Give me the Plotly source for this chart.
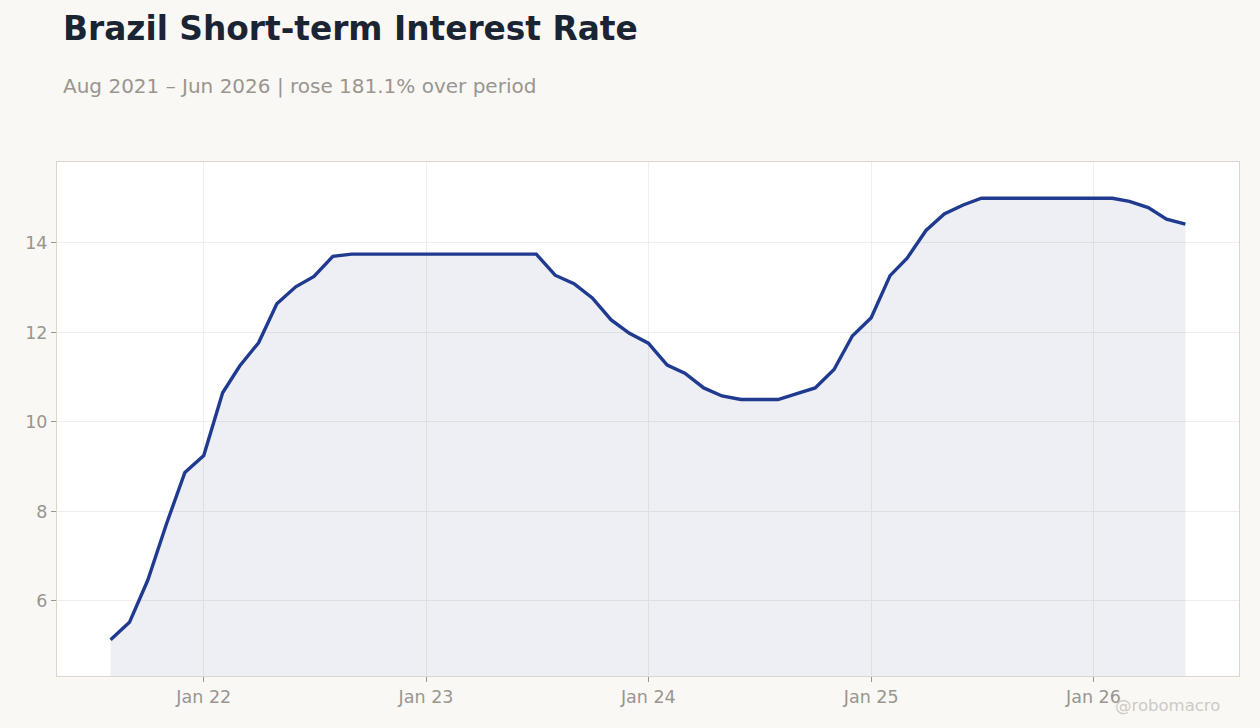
import plotly.graph_objects as go
import pandas as pd

# monthly values, Aug 2021 .. Jun 2026
months = pd.date_range("2021-08-01", "2026-06-01", freq="MS")
rate = [
    5.13, 5.52, 6.46, 7.73, 8.87,                      # Aug-Dec 21
    9.25, 10.65, 11.25, 11.77, 12.64, 13.02, 13.25,    # Jan-Jul 22
    13.70, 13.75, 13.75, 13.75, 13.75,                 # Aug-Dec 22
    13.75, 13.75, 13.75, 13.75, 13.75, 13.75, 13.75,   # Jan-Jul 23
    13.28, 13.09, 12.77, 12.28, 11.98,                 # Aug-Dec 23
    11.76, 11.27, 11.09, 10.76, 10.58, 10.50, 10.50,   # Jan-Jul 24
    10.50, 10.63, 10.76, 11.17, 11.92,                 # Aug-Dec 24
    12.33, 13.27, 13.66, 14.28, 14.65, 14.85, 15.00,   # Jan-Jul 25
    15.00, 15.00, 15.00, 15.00, 15.00,                 # Aug-Dec 25
    15.00, 15.00, 14.93, 14.79, 14.53, 14.42,          # Jan-Jun 26
]
tick_dates = ["2022-01-01", "2023-01-01", "2024-01-01", "2025-01-01", "2026-01-01"]
tick_text = ["Jan 22", "Jan 23", "Jan 24", "Jan 25", "Jan 26"]

title = "Brazil Short-term Interest Rate"
subtitle = "Aug 2021 – Jun 2026 | rose 181.1% over period"

grey = "#9a9590"
fig = go.Figure()
fig.add_trace(go.Scatter(
    x=months, y=rate,
    mode="lines",
    line=dict(color="#1f3a8f", width=3.4),
    fill="tozeroy",
    fillcolor="rgba(30,50,110,0.08)",
    hoverinfo="x+y",
))

fig.update_layout(
    width=1260, height=728,
    paper_bgcolor="#f9f8f5",
    plot_bgcolor="#ffffff",
    font=dict(family="DejaVu Sans", color=grey),
    margin=dict(l=57, r=21, t=162, b=52),
    showlegend=False,
    title=dict(text=f"<b>{title}</b>", xref="container", x=0.05, xanchor="left",
               yref="container", y=1 - 29 / 728, yanchor="middle",
               font=dict(size=32.8, color="#1b2433")),
    annotations=[
        dict(text=subtitle, xref="paper", yref="paper", x=4 / 1182, y=(676 - 86) / 514,
             xanchor="left", yanchor="middle", showarrow=False,
             font=dict(size=20, color=grey)),
        dict(text="@robomacro", xref="paper", yref="paper", x=1 - 17 / 1182, y=-29 / 514,
             xanchor="right", yanchor="middle", showarrow=False,
             font=dict(size=16.5, color="#cdcac6")),
    ],
)
fig.update_xaxes(
    range=["2021-05-05", "2026-08-28"],
    tickvals=tick_dates, ticktext=tick_text,
    showgrid=True, gridcolor="#f0eeec",
    ticks="outside", ticklen=5, tickcolor=grey,
    showline=True, linecolor="#ddd6cf", mirror=True, linewidth=1,
    tickfont=dict(size=17.5, color=grey),
    zeroline=False,
)
fig.update_yaxes(
    range=[4.32, 15.81],
    tickvals=[6, 8, 10, 12, 14],
    showgrid=True, gridcolor="#f0eeec",
    ticks="outside", ticklen=5, tickcolor=grey,
    showline=True, linecolor="#ddd6cf", mirror=True, linewidth=1,
    tickfont=dict(size=17.5, color=grey),
    zeroline=False,
)

fig.write_html("out.html", config={"displayModeBar": False},
               post_script="document.body.style.margin='0';")
